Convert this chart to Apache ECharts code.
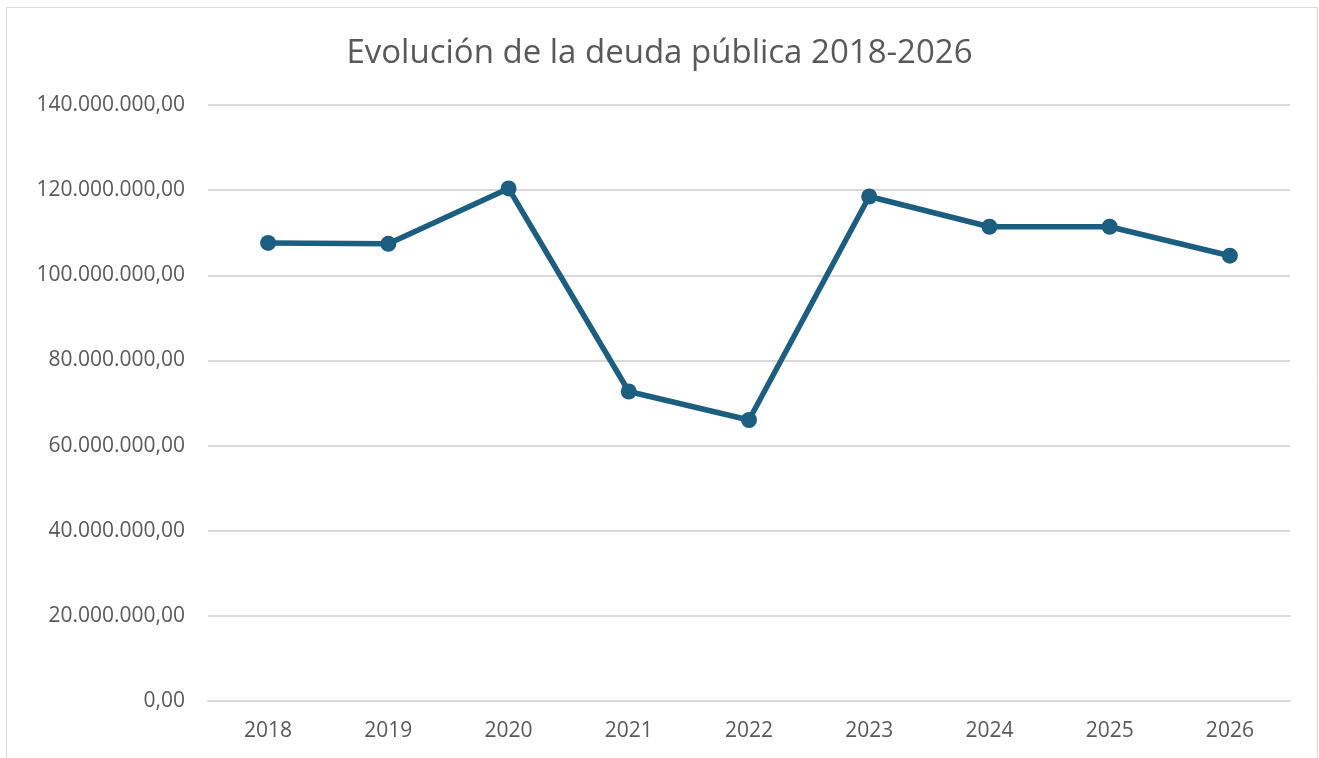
<!DOCTYPE html>
<html>
<head>
<meta charset="utf-8">
<script src="https://cdn.jsdelivr.net/npm/echarts@6/dist/echarts.min.js"></script>
<style>
html, body { margin: 0; padding: 0; background: #fff; }
#main { width: 1319px; height: 758px; }
</style>
</head>
<body>
<div id="main"></div>
<script>
// datos
var years = ['2018', '2019', '2020', '2021', '2022', '2023', '2024', '2025', '2026'];
var deuda = [107600000, 107400000, 120400000, 72700000, 66000000, 118500000, 111400000, 111400000, 104600000];
var yTicks = { min: 0, max: 140000000, step: 20000000 };

function fmt(v) {
    var s = Math.round(v).toString().replace(/\B(?=(\d{3})+(?!\d))/g, '.');
    return s + ',00';
}

var myChart = echarts.init(document.getElementById('main'));

var option = {
    backgroundColor: '#fff',
    animation: false,
    textStyle: { fontFamily: 'Open Sans' },
    title: {
        text: 'Evolución de la deuda pública 2018-2026',
        left: 'center',
        top: 32,
        textStyle: { fontFamily: 'Open Sans', fontSize: 33, fontWeight: 'normal', color: '#595959' }
    },
    graphic: [{
        type: 'rect',
        shape: { x: 6.5, y: 7.5, width: 1311, height: 760 },
        style: { fill: 'none', stroke: '#d9d9d9', lineWidth: 1 },
        silent: true
    }],
    grid: { left: 208, right: 29, top: 105, bottom: 57 },
    xAxis: {
        type: 'category',
        data: years,
        boundaryGap: true,
        axisLine: { show: true, lineStyle: { color: '#d9d9d9', width: 2 } },
        axisTick: { show: false },
        axisLabel: { color: '#595959', fontSize: 21, margin: 20 }
    },
    yAxis: {
        type: 'value',
        min: yTicks.min,
        max: yTicks.max,
        interval: yTicks.step,
        axisLine: { show: false },
        axisTick: { show: false },
        splitLine: { lineStyle: { color: '#d9d9d9', width: 2 } },
        axisLabel: { color: '#595959', fontSize: 21, margin: 23, formatter: fmt }
    },
    series: [{
        type: 'line',
        data: deuda,
        symbol: 'circle',
        symbolSize: 16,
        lineStyle: { color: '#1b5e80', width: 5.5 },
        itemStyle: { color: '#1b5e80' }
    }]
};

myChart.setOption(option);
</script>
</body>
</html>
